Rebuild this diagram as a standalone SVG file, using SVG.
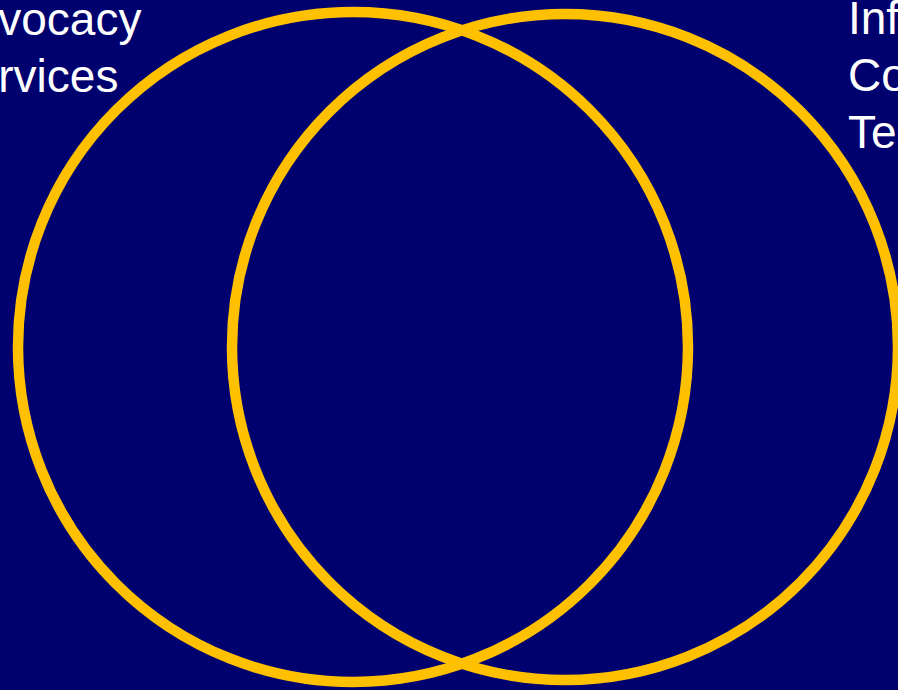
<svg xmlns="http://www.w3.org/2000/svg" width="898" height="690" viewBox="0 0 898 690">
<style>
.ring{fill:none;stroke:#FFC000;stroke-width:10.5}
.lbl{font-family:"Liberation Sans",Arial,sans-serif;font-size:46px;fill:#FFFFFF}
</style>
<rect x="0" y="0" width="898" height="690" fill="#00006E"/>
<g id="advocacy">
<circle class="ring" cx="353" cy="347" r="335"/>
<text class="lbl" x="-58" y="35">Advocacy</text>
<text class="lbl" x="-58" y="92">Services</text>
</g>
<g id="ict">
<circle class="ring" cx="565" cy="347" r="333"/>
<text class="lbl" x="848" y="34">Information</text>
<text class="lbl" x="848" y="91">Communication</text>
<text class="lbl" x="848" y="148">Technology</text>
</g>
<g id="connectors"></g>
</svg>
